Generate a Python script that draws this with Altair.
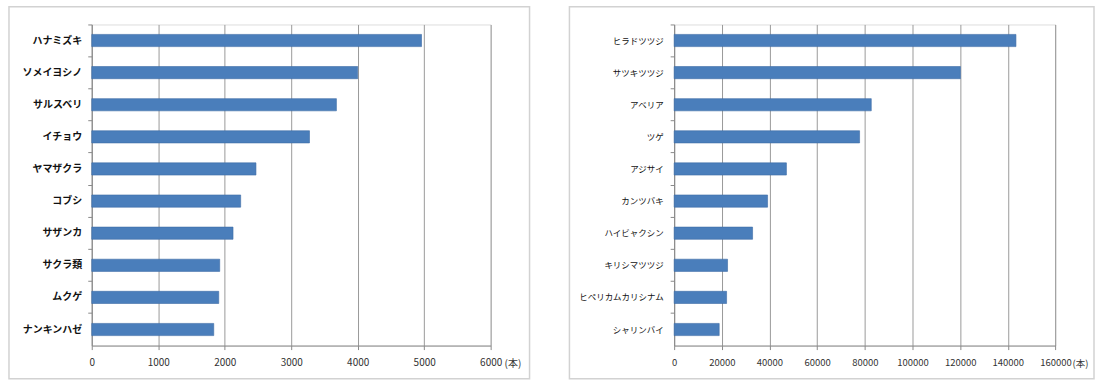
import altair as alt
import pandas as pd

# ---- data ----
left_names = ["ハナミズキ", "ソメイヨシノ", "サルスベリ", "イチョウ", "ヤマザクラ",
              "コブシ", "サザンカ", "サクラ類", "ムクゲ", "ナンキンハゼ"]
left_values = [4960, 4000, 3680, 3275, 2470, 2240, 2125, 1925, 1910, 1835]
left_ticks = [0, 1000, 2000, 3000, 4000, 5000, 6000]

right_names = ["ヒラドツツジ", "サツキツツジ", "アベリア", "ツゲ", "アジサイ",
               "カンツバキ", "ハイビャクシン", "キリシマツツジ", "ヒペリカムカリシナム", "シャリンバイ"]
right_values = [143400, 120100, 82700, 77800, 47100, 39200, 32900, 22400, 22000, 18900]
right_ticks = [0, 20000, 40000, 60000, 80000, 100000, 120000, 140000, 160000]

unit_label = "(本)"

FONT = "Noto Sans CJK JP"
H = 322


def panel(names, values, ticks, width, label_weight, label_size, label_pad,
          num_size, bx, bx2, unit_dx):
    df = pd.DataFrame({"name": names, "value": values})
    border = alt.Chart(alt.Data(values=[{"a": 1}])).mark_rect(
        fill="transparent", stroke="#d2d2d2", strokeWidth=1.5
    ).encode(
        x=alt.value(bx), x2=alt.value(bx2), y=alt.value(-17.7), y2=alt.value(355.3)
    )
    bars = alt.Chart(df).mark_bar(
        color="#4a7ebb", height={"band": 0.38}, stroke="#3e6ca6", strokeWidth=0.6
    ).encode(
        x=alt.X("value:Q",
                scale=alt.Scale(domain=[ticks[0], ticks[-1]], nice=False, zero=True),
                axis=alt.Axis(values=ticks, format="d", title=None, grid=True,
                              gridColor="#9a9a9a", gridWidth=1, labelFlush=False,
                              domainColor="#8a8a8a", tickColor="#8a8a8a", tickSize=4,
                              labelFontSize=num_size, labelColor="#333333", labelPadding=8,
                              labelFont=FONT)),
        y=alt.Y("name:N", sort=names,
                scale=alt.Scale(paddingInner=0, paddingOuter=0),
                axis=alt.Axis(title=None, bandPosition=0,
                              domainColor="#8a8a8a", tickColor="#8a8a8a", tickSize=4,
                              labelFontSize=label_size, labelFontWeight=label_weight,
                              labelColor="#111111", labelPadding=label_pad, labelFont=FONT,
                              labelBaseline="middle")),
    )
    unit = alt.Chart(alt.Data(values=[{"t": unit_label}])).mark_text(
        align="left", baseline="middle", dx=unit_dx, fontSize=num_size, font=FONT,
        color="#333333"
    ).encode(x=alt.datum(ticks[-1]), y=alt.value(H + 18), text="t:N")
    return alt.layer(border, bars, unit).properties(width=width, height=H)


left = panel(left_names, left_values, left_ticks, 400, "bold", 10, 6, 10, -83, 439, 14)
right = panel(right_names, right_values, right_ticks, 382.4, "normal", 8.5, 7, 9.5, -105, 421, 17)

chart = alt.hconcat(left, right, spacing=184, bounds="flush").properties(
    padding={"left": 7, "top": 5, "right": 0, "bottom": 0}
).configure_view(stroke=None).configure(font=FONT, background="white")

chart.save("out.html", embed_options={"renderer": "svg", "actions": False})
